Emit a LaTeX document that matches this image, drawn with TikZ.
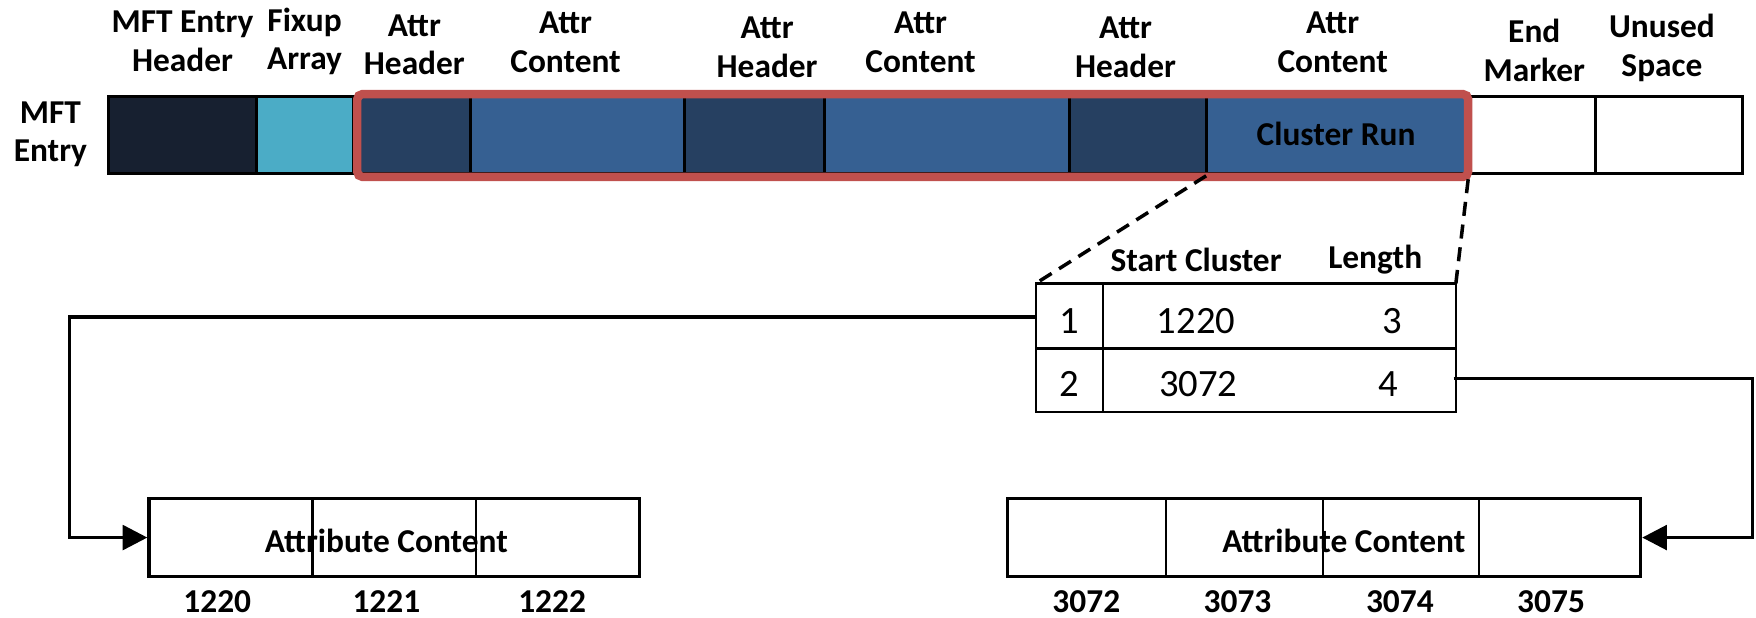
\documentclass[tikz,border=0pt]{standalone}
\usepackage{fontspec}
\setmainfont{Carlito}
\usepackage{tikz}
\usetikzlibrary{arrows.meta,positioning,calc}
\definecolor{hdrNavy}{RGB}{23,32,48}
\definecolor{fixTeal}{RGB}{75,172,198}
\definecolor{attrHead}{RGB}{38,64,97}
\definecolor{attrBody}{RGB}{54,96,146}
\definecolor{runRed}{RGB}{192,80,77}

\begin{document}
\begin{tikzpicture}[x=0.112mm,y=-0.112mm,font=\bfseries\fontsize{9.5}{11}\selectfont]
  \useasboundingbox (0,0) rectangle (1568,551);
  \tikzset{
    lbl/.style={align=center,inner sep=0pt},
    num/.style={font=\mdseries\fontsize{11}{13}\selectfont,inner sep=0pt},
    lcn/.style={inner sep=0pt},
    blk/.style={draw,line width=0.9pt,inner sep=0pt,minimum height=7.84mm},
    link/.style={line width=1pt},
    zoomln/.style={line width=1pt,dashed,dash pattern=on 4pt off 2.5pt}
  }
  % row label
  \node[lbl] (entryLbl) at (45,120) {MFT\\Entry};
  % column labels
  \foreach [count=\i] \x/\y/\t in {163/37/{MFT Entry\\Header},272/37/{Fixup\\Array},
      370/40/{Attr\\Header},505/38/{Attr\\Content},685/42/{Attr\\Header},822/38/{Attr\\Content},
      1005/42/{Attr\\Header},1190/38/{Attr\\Content},1370/45/{End\\Marker},1484/43/{Unused\\Space}} {
    \node[lbl] (colLbl\i) at (\x,\y) {\t};
  }
  % MFT entry bar
  \foreach [count=\i] \xa/\xb/\c in {97/229/hdrNavy,229/316/fixTeal,316/420/attrHead,420/611/attrBody,
      611/736/attrHead,736/955/attrBody,955/1077/attrHead,1077/1310/attrBody,1310/1425/white,1425/1556/white} {
    \draw[line width=0.9pt,fill=\c] (\xa,86) rectangle (\xb,155);
  }
  \node (runLbl) at (1193,120) {Cluster Run};
  % attributes outline
  \draw[runRed,line width=2.4pt,rounded corners=1.5pt] (319,84) rectangle (1311,158);
  \coordinate (runSW) at (1077,157);
  \coordinate (runSE) at (1311,160);
  % run list table
  \draw[line width=0.7pt] (925,253) rectangle (1300,368);
  \draw[line width=0.7pt] (925,311) -- (1300,311);
  \draw[line width=0.7pt] (985,253) -- (985,368);
  \coordinate (tabNW) at (925,253);
  \coordinate (tabNE) at (1300,253);
  \node (hdStart) at (1068,232) {Start Cluster};
  \node (hdLen) at (1228,232) {Length};
  \node[num] (rowA) at (955,287) {1};
  \node[num] (startA) at (1068,287) {1220};
  \node[num] (lenA) at (1243,287) {3};
  \node[num] (rowB) at (955,343) {2};
  \node[num] (startB) at (1070,343) {3072};
  \node[num] (lenB) at (1240,343) {4};
  \coordinate (tabW) at (925,283);
  \coordinate (tabE) at (1298,338);
  % zoom lines
  \draw[zoomln] (runSW) -- (tabNW);
  \draw[zoomln] (runSE) -- (tabNE);
  % cluster blocks
  \node[blk,minimum width=49.06mm] (blkA) at (352,480) {};
  \node[blk,minimum width=63.28mm] (blkB) at (1182.5,480) {};
  \foreach \x in {279,425} \draw[line width=0.6pt] (\x,445) -- (\x,515);
  \foreach \x in {1041,1181,1321} \draw[line width=0.6pt] (\x,445) -- (\x,515);
  \node (blkALbl) at (345,483) {Attribute Content};
  \node (blkBLbl) at (1200,483) {Attribute Content};
  \foreach [count=\i] \x/\t in {194/1220,345/1221,493/1222} {
    \node[lcn] (lcnA\i) at (\x,537) {\t};
  }
  \foreach [count=\i] \x/\t in {970/3072,1105/3073,1250/3074,1385/3075} {
    \node[lcn] (lcnB\i) at (\x,537) {\t};
  }
  % links
  \coordinate (bendA) at (62,283);
  \coordinate (bendB) at (1565,338);
  \draw[link,-{Triangle[length=7pt,width=7pt]}] (tabW) -- (bendA) |- (blkA.west);
  \draw[link,-{Triangle[length=7pt,width=7pt]}] (tabE) -- (bendB) |- (blkB.east);
\end{tikzpicture}
\end{document}
